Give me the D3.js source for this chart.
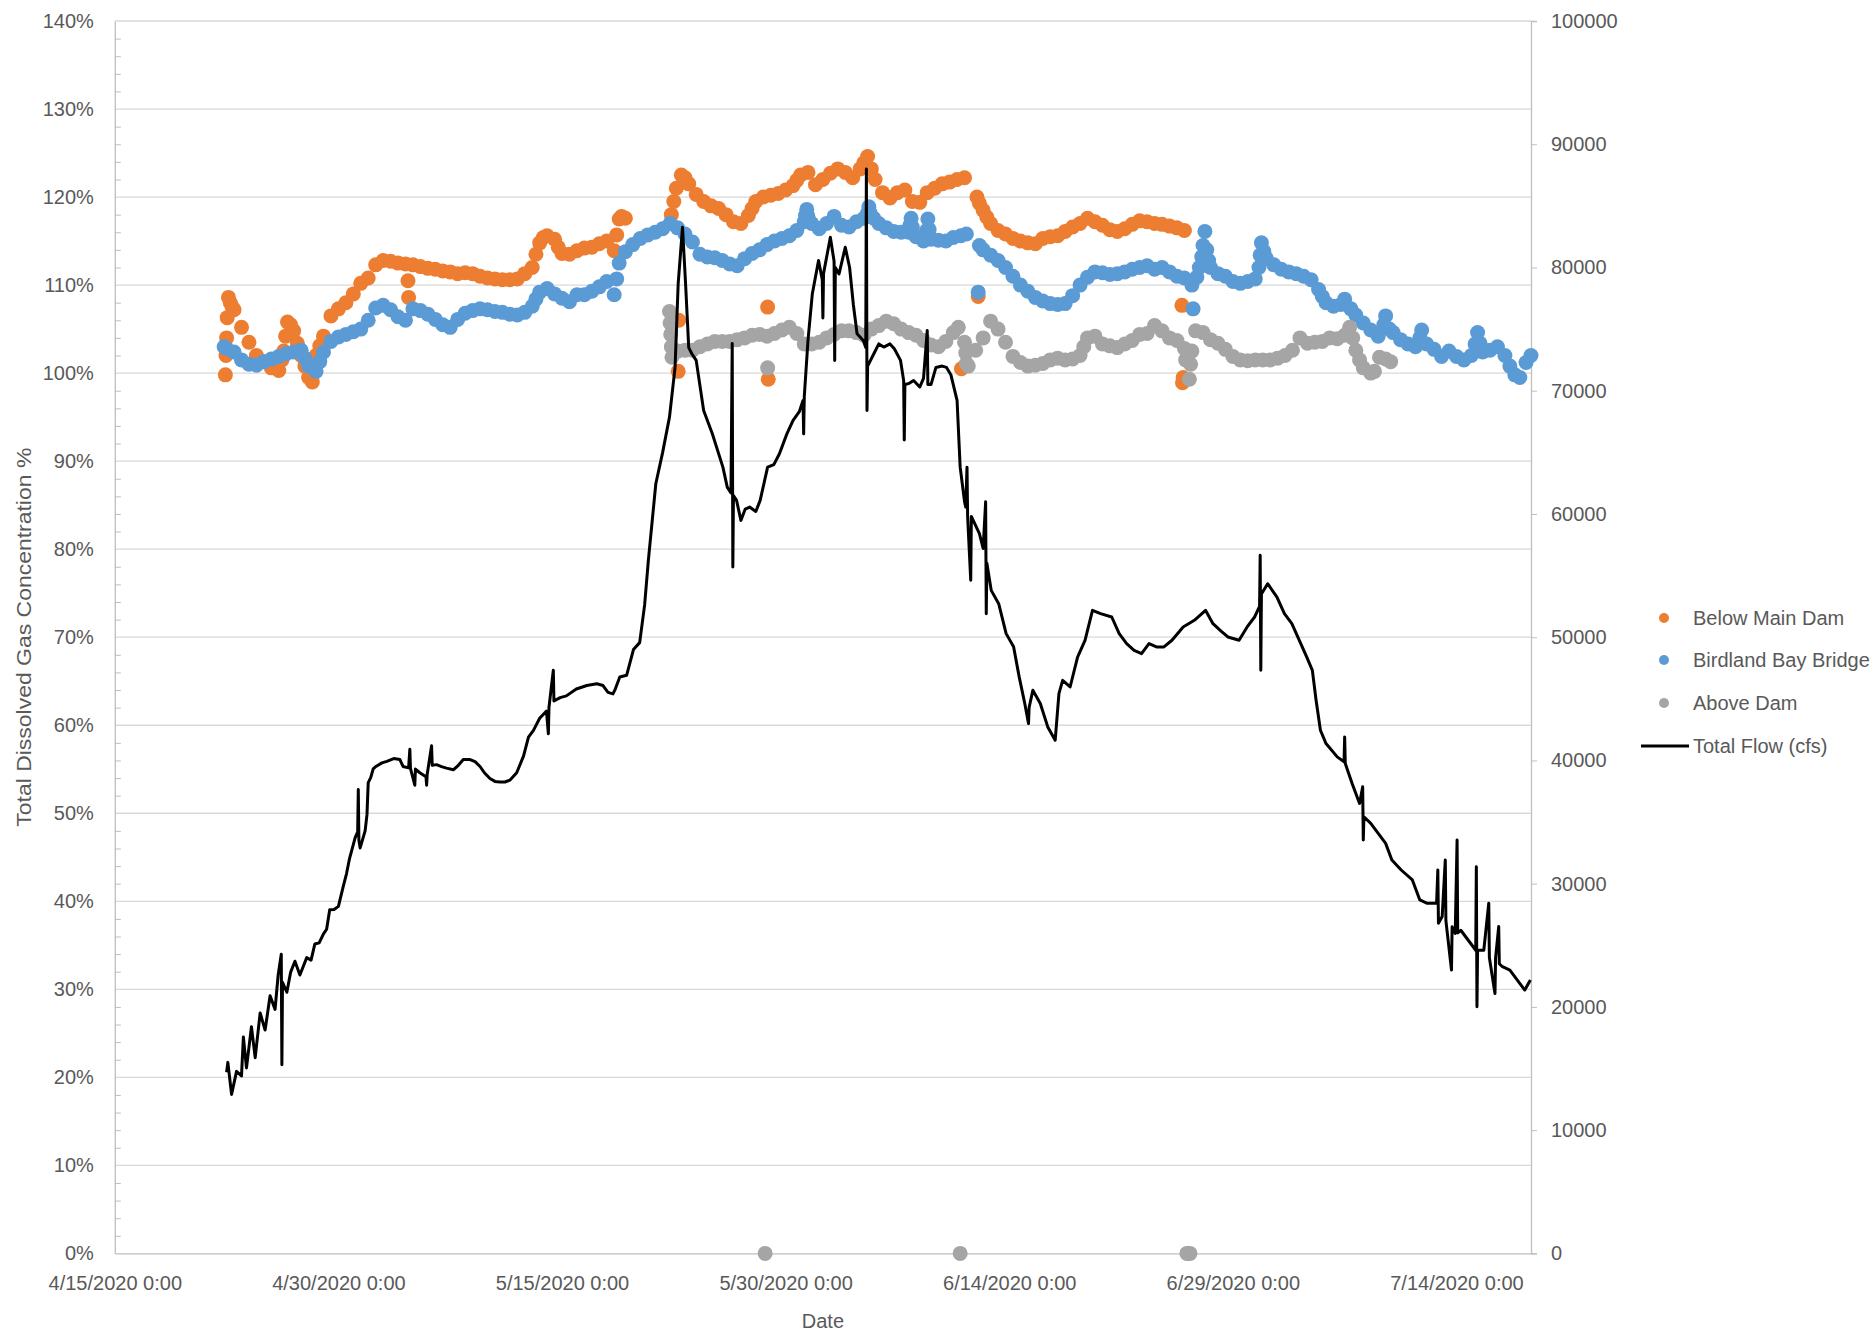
<!DOCTYPE html>
<html>
<head>
<meta charset="utf-8">
<script src="https://cdn.jsdelivr.net/npm/d3@7"></script>
<style>
  body { margin: 0; background: #ffffff; }
  text { font-family: "Liberation Sans", Arial, sans-serif; }
</style>
</head>
<body>
<svg id="chart" width="1875" height="1336"></svg>
<script>
// ---- Axis definitions ----
const pctTicks = [0, 10, 20, 30, 40, 50, 60, 70, 80, 90, 100, 110, 120, 130, 140];
const flowTicks = [0, 10000, 20000, 30000, 40000, 50000, 60000, 70000, 80000, 90000, 100000];
const dateTicks = ["4/15 0", "4/30 0", "5/15 0", "5/30 0", "6/14 0", "6/29 0", "7/14 0"];
const dateRange = ["4/15 0", "7/19 0"];

// ---- Total dissolved gas, % saturation (time "M/D H", value) ----
const belowMainDam = [
  ["4/22 10",99.8],["4/22 11",102.0],["4/22 12",104.0],["4/22 13",106.3],["4/22 15",108.6],["4/22 18",108.0],
  ["4/22 21",107.5],["4/23 0",107.2],["4/23 12",105.2],["4/24 0",103.5],["4/24 12",102.0],["4/25 0",101.3],
  ["4/25 12",100.6],["4/26 0",100.3],["4/26 5",101.5],["4/26 8",102.5],["4/26 11",104.2],["4/26 14",105.8],
  ["4/26 19",105.5],["4/27 0",104.8],["4/27 6",103.4],["4/27 12",102.0],["4/27 18",100.8],["4/28 0",99.5],
  ["4/28 6",99.0],["4/28 12",102.0],["4/28 18",103.1],["4/29 0",104.2],["4/29 12",106.5],["4/30 0",107.3],
  ["4/30 12",108.0],["5/1 0",109.0],["5/1 12",110.2],["5/2 0",110.8],["5/2 12",112.3],["5/3 0",112.8],
  ["5/3 12",112.7],["5/4 0",112.5],["5/4 12",112.4],["5/4 16",110.5],["5/4 17",108.6],["5/5 0",112.3],
  ["5/5 12",112.1],["5/6 0",111.9],["5/6 12",111.8],["5/7 0",111.6],["5/7 12",111.5],["5/8 0",111.3],
  ["5/8 12",111.4],["5/9 0",111.3],["5/9 12",111.0],["5/10 0",110.8],["5/10 12",110.7],["5/11 0",110.6],
  ["5/11 12",110.6],["5/12 0",110.7],["5/12 12",111.3],["5/13 0",112.0],["5/13 6",113.5],["5/13 12",114.8],
  ["5/13 18",115.4],["5/14 0",115.6],["5/14 12",115.2],["5/14 18",114.3],["5/15 0",113.6],["5/15 12",113.5],
  ["5/16 0",113.9],["5/16 12",114.2],["5/17 0",114.3],["5/17 12",114.7],["5/18 0",115.0],["5/18 12",113.9],
  ["5/18 16",115.7],["5/18 20",117.5],["5/19 0",117.8],["5/19 6",117.6],
  ["5/22 8",118.0],["5/22 12",119.5],["5/22 16",121.0],["5/22 19",100.2],["5/22 20",106.0],["5/23 0",122.5],
  ["5/23 6",122.2],["5/23 12",121.5],["5/24 0",120.3],["5/24 12",119.5],["5/25 0",119.0],["5/25 12",118.7],
  ["5/26 0",118.0],["5/26 12",117.2],["5/27 0",117.0],["5/27 12",117.9],["5/27 18",118.7],["5/28 0",119.5],
  ["5/28 12",120.0],["5/28 19",107.5],["5/28 20",99.3],["5/29 0",120.2],["5/29 12",120.4],["5/30 0",120.8],
  ["5/30 12",121.3],["5/30 18",121.9],["5/31 0",122.5],["5/31 12",122.8],["6/1 0",121.4],["6/1 12",122.0],
  ["6/2 0",122.7],["6/2 12",123.2],["6/3 0",122.8],["6/3 12",122.2],["6/4 0",123.2],["6/4 6",123.9],
  ["6/4 12",124.6],["6/4 18",123.2],["6/5 0",122.0],["6/5 12",120.5],["6/6 0",119.9],["6/6 12",120.5],
  ["6/7 0",120.8],["6/7 12",119.5],["6/8 0",119.4],["6/8 12",120.5],["6/9 0",121.0],["6/9 12",121.5],
  ["6/10 0",121.7],["6/10 12",122.0],["6/10 19",100.5],["6/11 0",122.2],["6/11 22",108.7],
  ["6/11 20",120.0],["6/12 0",119.3],["6/12 6",118.5],["6/12 12",117.7],["6/12 18",117.0],["6/13 6",116.2],
  ["6/13 18",115.8],["6/14 6",115.3],["6/14 18",115.0],["6/15 6",114.8],["6/15 18",114.7],["6/16 6",115.3],
  ["6/16 18",115.5],["6/17 6",115.6],["6/17 18",116.1],["6/18 6",116.6],["6/18 18",117.0],["6/19 6",117.6],
  ["6/19 18",117.2],["6/20 6",116.8],["6/20 18",116.3],["6/21 6",116.1],["6/21 18",116.4],["6/22 6",116.9],
  ["6/22 18",117.3],["6/23 6",117.2],["6/23 18",117.0],["6/24 6",116.9],["6/24 18",116.7],["6/25 6",116.5],
  ["6/25 14",107.7],["6/25 15",98.9],["6/25 16",99.5],["6/25 18",116.2]
];

const birdlandBayBridge = [
  ["4/22 8",103.0],["4/22 12",102.8],["4/23 0",102.4],["4/23 12",101.5],["4/24 0",101.0],["4/24 12",100.9],
  ["4/25 0",101.3],["4/25 12",101.6],["4/26 0",101.9],["4/26 12",102.2],["4/27 0",102.4],["4/27 12",102.6],
  ["4/27 18",101.7],["4/28 0",100.8],["4/28 12",100.2],["4/28 18",101.3],["4/29 0",102.4],["4/29 12",103.6],
  ["4/30 0",104.1],["4/30 12",104.4],["5/1 0",104.7],["5/1 12",105.0],["5/2 0",106.0],["5/2 12",107.4],
  ["5/3 0",107.7],["5/3 12",107.2],["5/4 0",106.4],["5/4 12",106.0],["5/5 0",107.3],["5/5 12",107.1],
  ["5/6 0",106.7],["5/6 12",106.1],["5/7 0",105.5],["5/7 12",105.2],["5/8 0",106.1],["5/8 12",106.8],
  ["5/9 0",107.1],["5/9 12",107.3],["5/10 0",107.2],["5/10 12",107.0],["5/11 0",106.9],["5/11 12",106.7],
  ["5/12 0",106.6],["5/12 12",106.9],["5/13 0",107.6],["5/13 6",108.4],["5/13 12",109.2],["5/14 0",109.6],
  ["5/14 12",109.0],["5/15 0",108.5],["5/15 12",108.1],["5/16 0",108.9],["5/16 12",108.9],["5/17 0",109.3],
  ["5/17 12",109.8],["5/18 0",110.4],["5/18 12",108.9],["5/18 16",110.7],["5/18 20",112.5],["5/19 6",113.8],
  ["5/19 18",114.6],["5/20 6",115.3],["5/20 18",115.7],["5/21 6",116.0],["5/21 18",116.4],["5/22 6",117.0],
  ["5/22 18",116.5],["5/23 6",115.8],["5/23 18",114.9],["5/24 6",113.5],["5/24 18",113.2],["5/25 6",113.1],
  ["5/25 18",112.8],["5/26 6",112.4],["5/26 18",112.2],["5/27 6",113.0],["5/27 18",113.6],["5/28 6",114.0],
  ["5/28 18",114.6],["5/29 6",115.0],["5/29 18",115.3],["5/30 6",115.6],["5/30 18",116.2],["5/31 6",117.2],
  ["5/31 8",117.9],["5/31 10",118.6],["5/31 12",117.8],["5/31 18",117.0],["6/1 6",116.4],["6/1 18",117.0],
  ["6/2 6",117.8],["6/2 18",116.8],["6/3 6",116.6],["6/3 18",117.2],["6/4 6",117.6],["6/4 12",118.2],
  ["6/4 14",118.9],["6/4 16",118.2],["6/4 22",117.6],["6/5 6",117.0],["6/5 18",116.5],["6/6 6",116.1],
  ["6/6 18",116.0],["6/7 6",116.0],["6/7 8",116.8],["6/7 10",117.6],["6/7 12",116.6],["6/7 18",115.5],
  ["6/8 6",115.0],["6/8 11",116.2],["6/8 13",117.5],["6/8 15",116.3],["6/8 18",115.2],["6/9 6",115.1],
  ["6/9 18",115.0],["6/10 6",115.4],["6/10 18",115.6],["6/11 3",115.8],["6/11 22",109.2],["6/12 0",114.5],
  ["6/12 6",114.0],["6/12 18",113.4],["6/13 6",112.8],["6/13 18",112.0],["6/14 6",111.0],["6/14 18",110.0],
  ["6/15 6",109.3],["6/15 18",108.6],["6/16 6",108.2],["6/16 18",107.9],["6/17 6",107.8],["6/17 18",107.9],
  ["6/18 6",108.8],["6/18 18",110.0],["6/19 6",110.9],["6/19 18",111.5],["6/20 6",111.4],["6/20 18",111.2],
  ["6/21 6",111.3],["6/21 18",111.5],["6/22 6",111.8],["6/22 18",112.0],["6/23 6",112.2],["6/23 18",111.8],
  ["6/24 6",112.0],["6/24 18",111.5],["6/25 6",111.0],["6/25 18",110.8],["6/26 6",110.0],["6/26 8",107.3],
  ["6/26 14",110.9],["6/26 18",112.0],["6/26 22",113.2],["6/27 0",114.5],["6/27 3",116.1],["6/27 6",114.0],
  ["6/27 9",112.8],["6/27 12",112.0],["6/28 0",111.3],["6/28 12",111.0],["6/29 0",110.4],["6/29 12",110.2],
  ["6/30 0",110.4],["6/30 12",110.7],["6/30 18",112.0],["6/30 20",113.4],["6/30 22",114.8],["7/1 2",113.8],
  ["7/1 6",113.0],["7/1 18",112.3],["7/2 6",111.8],["7/2 18",111.5],["7/3 6",111.3],["7/3 18",111.0],
  ["7/4 6",110.6],["7/4 18",109.5],["7/5 0",108.7],["7/5 6",108.0],["7/5 18",107.6],["7/6 6",107.8],
  ["7/6 12",108.4],["7/6 22",107.3],["7/7 6",106.6],["7/7 18",105.7],["7/8 6",104.9],["7/8 18",104.2],
  ["7/9 3",105.5],["7/9 6",106.5],["7/9 12",105.0],["7/9 18",104.6],["7/10 6",103.8],["7/10 18",103.3],
  ["7/11 6",103.0],["7/11 13",104.0],["7/11 16",104.9],["7/12 0",103.3],["7/12 12",102.7],["7/13 0",101.9],
  ["7/13 12",102.5],["7/14 0",101.9],["7/14 12",101.5],["7/15 0",102.0],["7/15 6",103.3],["7/15 10",104.6],
  ["7/15 14",103.4],["7/15 18",102.4],["7/16 6",102.6],["7/16 18",103.0],["7/17 6",102.0],["7/17 14",100.8],
  ["7/17 22",99.8],["7/18 6",99.5],["7/18 16",101.2],["7/19 0",102.0]
];

const aboveDam = [
  ["5/22 5",107.0],["5/22 6",105.7],["5/22 7",104.4],["5/22 8",103.0],["5/22 9",101.8],["5/22 18",102.5],
  ["5/23 6",102.6],["5/23 18",102.6],["5/24 6",103.0],["5/24 18",103.3],["5/25 6",103.6],["5/25 18",103.6],
  ["5/26 6",103.6],["5/26 18",103.8],["5/27 6",104.0],["5/27 18",104.3],["5/28 6",104.4],["5/28 18",104.2],
  ["5/28 19",100.6],["5/28 15",0],["5/29 6",104.5],["5/29 18",104.9],["5/30 6",105.2],["5/30 18",104.5],
  ["5/31 6",103.3],["5/31 18",103.3],["6/1 6",103.5],["6/1 18",104.0],["6/2 6",104.4],["6/2 18",104.8],
  ["6/3 6",104.8],["6/3 18",104.6],["6/4 6",104.3],["6/4 18",105.0],["6/5 6",105.4],["6/5 18",105.9],
  ["6/6 6",105.6],["6/6 18",105.0],["6/7 6",104.6],["6/7 18",104.3],["6/8 6",103.7],["6/8 18",103.2],
  ["6/9 6",103.0],["6/9 18",103.6],["6/10 6",104.6],["6/10 14",105.2],["6/10 17",0],["6/11 0",103.5],
  ["6/11 2",102.3],["6/11 3",101.1],["6/11 6",100.8],["6/11 18",102.6],["6/12 6",104.0],["6/12 18",105.9],
  ["6/13 6",105.0],["6/13 18",103.5],["6/14 6",101.9],["6/14 18",101.2],["6/15 6",100.8],["6/15 18",100.9],
  ["6/16 6",101.1],["6/16 18",101.5],["6/17 6",101.7],["6/17 18",101.5],["6/18 6",101.6],["6/18 18",102.0],
  ["6/19 0",103.0],["6/19 6",104.0],["6/19 18",104.2],["6/20 6",103.3],["6/20 18",103.1],["6/21 6",102.9],
  ["6/21 18",103.3],["6/22 6",103.7],["6/22 18",104.4],["6/23 6",104.5],["6/23 18",105.4],["6/24 6",104.8],
  ["6/24 18",104.0],["6/25 6",103.7],["6/25 18",102.8],["6/25 20",101.5],["6/25 22",0],["6/26 0",0],
  ["6/26 3",0],["6/26 2",99.3],["6/26 4",101.0],["6/26 6",102.5],["6/26 12",104.8],["6/27 0",104.6],
  ["6/27 12",103.8],["6/28 0",103.4],["6/28 12",102.7],["6/29 0",101.9],["6/29 12",101.5],["6/30 0",101.4],
  ["6/30 12",101.5],["7/1 0",101.5],["7/1 12",101.5],["7/2 0",101.7],["7/2 12",102.0],["7/3 0",102.6],
  ["7/3 12",104.0],["7/4 0",103.4],["7/4 12",103.5],["7/5 0",103.6],["7/5 12",104.0],["7/6 0",103.9],
  ["7/6 12",104.3],["7/6 20",105.2],["7/7 1",104.0],["7/7 6",102.6],["7/7 12",101.5],["7/7 18",100.6],
  ["7/8 6",100.0],["7/8 12",100.2],["7/8 20",101.8],["7/9 6",101.6],["7/9 14",101.3]
];

// ---- Total flow, cfs (time "M/D H", value) ----
const totalFlow = [
  ["4/22 12",14700],["4/22 14",15500],["4/22 20",12900],["4/23 4",14770],["4/23 12",14400],["4/23 15",17560],
  ["4/23 20",15050],["4/24 4",18400],["4/24 10",15880],["4/24 18",19510],["4/25 2",18120],["4/25 10",20910],
  ["4/25 18",19800],["4/25 23",22590],["4/26 4",24270],["4/26 5",15300],["4/26 6",22000],["4/26 13",21190],
  ["4/26 19",22800],["4/27 2",23710],["4/27 10",22590],["4/27 21",24000],["4/28 4",23800],["4/28 10",25100],
  ["4/28 17",25200],["4/29 0",25930],["4/29 5",26300],["4/29 10",27880],["4/29 17",27900],["4/30 0",28160],
  ["4/30 8",29830],["4/30 13",30800],["4/30 18",32060],["5/1 3",33730],["5/1 7",34200],["5/1 8",37640],
  ["5/1 9",33500],["5/1 11",32900],["5/1 19",34290],["5/1 22",35600],["5/2 0",38200],["5/2 4",38600],
  ["5/2 8",39310],["5/2 13",39530],["5/2 22",39800],["5/3 6",39930],["5/3 17",40150],["5/4 3",40070],
  ["5/4 8",39510],["5/4 17",39400],["5/4 19",40900],["5/4 20",39360],["5/5 3",37990],["5/5 4",39300],
  ["5/5 11",39000],["5/5 21",38680],["5/5 22",37990],["5/5 23",38900],["5/6 6",41190],["5/6 7",39600],
  ["5/6 14",39660],["5/6 22",39500],["5/7 6",39380],["5/7 17",39240],["5/8 1",39600],["5/8 9",40070],
  ["5/8 20",40070],["5/9 4",39900],["5/9 12",39510],["5/9 19",39000],["5/10 4",38540],["5/10 12",38300],
  ["5/10 20",38260],["5/11 4",38250],["5/11 12",38400],["5/11 23",39000],["5/12 10",40350],["5/12 18",41890],
  ["5/13 2",42440],["5/13 12",43420],["5/13 23",44000],["5/14 2",42160],["5/14 3",44300],["5/14 10",47320],
  ["5/14 11",44820],["5/14 21",45100],["5/15 7",45240],["5/15 23",45800],["5/16 16",46080],["5/17 8",46220],
  ["5/17 18",46080],["5/18 2",45520],["5/18 10",45400],["5/18 13",45700],["5/18 21",46770],["5/19 8",46910],
  ["5/19 19",49000],["5/20 5",49560],["5/20 13",52620],["5/20 19",56230],["5/21 7",62450],["5/21 18",65000],
  ["5/22 5",67860],["5/22 14",71900],["5/22 19",78680],["5/23 2",83270],["5/23 7",78600],["5/23 12",73500],
  ["5/23 17",73000],["5/24 0",72460],["5/24 12",68400],["5/25 2",66510],["5/25 19",63800],["5/26 2",62180],
  ["5/26 8",61700],["5/26 10",73830],["5/26 11",55690],["5/26 12",61500],["5/26 17",61100],["5/27 0",59480],
  ["5/27 7",60400],["5/27 14",60560],["5/28 0",60200],["5/28 7",61100],["5/28 19",63800],["5/29 5",64000],
  ["5/29 14",64890],["5/30 2",66500],["5/30 12",67590],["5/30 22",68300],["5/31 4",69210],["5/31 5",66500],
  ["5/31 6",69500],["5/31 12",74080],["5/31 19",77870],["6/1 5",80560],["6/1 11",79000],["6/1 12",75910],
  ["6/1 13",79500],["6/2 0",82450],["6/2 6",80500],["6/2 7",72460],["6/2 8",80000],["6/2 14",79480],
  ["6/3 0",81640],["6/3 7",80000],["6/3 13",77000],["6/3 19",74620],["6/4 5",74080],["6/4 9",73500],
  ["6/4 10",88000],["6/4 11",68400],["6/4 12",72000],["6/4 22",73000],["6/5 6",73800],["6/5 14",73540],
  ["6/6 0",73800],["6/6 7",73400],["6/6 17",72460],["6/6 22",70830],["6/6 23",66000],["6/7 0",70500],
  ["6/7 7",70600],["6/7 14",70830],["6/8 0",70300],["6/8 6",71000],["6/8 12",74890],["6/8 13",70500],
  ["6/8 18",70500],["6/9 2",71890],["6/9 12",72000],["6/9 19",71890],["6/10 2",71300],["6/10 12",69210],
  ["6/10 17",63800],["6/11 0",61000],["6/11 2",60560],["6/11 4",63800],["6/11 5",59800],["6/11 10",54620],
  ["6/11 11",59800],["6/11 14",59480],["6/12 0",58400],["6/12 6",57200],["6/12 10",61000],["6/12 11",51910],
  ["6/12 12",56000],["6/12 19",53800],["6/13 7",52720],["6/13 19",50290],["6/14 7",49230],["6/14 16",46780],
  ["6/15 1",44620],["6/15 7",42990],["6/15 8",44300],["6/15 14",45690],["6/16 2",44620],["6/16 14",42720],
  ["6/17 2",41640],["6/17 8",45420],["6/17 14",46500],["6/18 2",45960],["6/18 14",48390],["6/19 2",49740],
  ["6/19 14",52180],["6/20 3",51910],["6/20 21",51640],["6/21 9",50290],["6/21 21",49480],["6/22 9",48940],
  ["6/22 21",48670],["6/23 9",49480],["6/23 21",49210],["6/24 9",49210],["6/24 22",49750],["6/25 16",50830],
  ["6/26 10",51370],["6/27 4",52180],["6/27 16",51100],["6/28 5",50500],["6/28 16",50020],["6/29 10",49750],
  ["6/29 23",50830],["6/30 11",51640],["6/30 19",52500],["6/30 20",56640],["6/30 21",47310],["6/30 22",53500],
  ["7/1 8",54340],["7/1 23",53260],["7/2 11",51910],["7/2 23",51100],["7/3 11",49750],["7/3 23",48390],
  ["7/4 8",47310],["7/4 14",44880],["7/4 21",42450],["7/5 6",41370],["7/6 0",40290],["7/6 11",39900],
  ["7/6 12",41910],["7/6 13",39750],["7/7 0",38130],["7/7 12",36510],["7/7 17",37860],["7/7 18",33540],
  ["7/7 19",35430],["7/8 6",34890],["7/8 18",34080],["7/9 6",33270],["7/9 16",31920],["7/10 7",31110],
  ["7/11 1",30300],["7/11 13",28680],["7/12 1",28410],["7/12 16",28410],["7/12 18",31110],["7/12 19",26790],
  ["7/13 1",27330],["7/13 6",31920],["7/13 7",27000],["7/13 16",22990],["7/13 17",26500],["7/13 22",25960],
  ["7/14 1",33540],["7/14 2",26000],["7/14 7",26220],["7/14 19",25410],["7/15 7",24600],["7/15 8",31380],
  ["7/15 9",20010],["7/15 10",24600],["7/15 20",24600],["7/16 4",28410],["7/16 5",24000],["7/16 14",21090],
  ["7/16 15",24000],["7/16 20",26520],["7/16 21",23500],["7/17 2",23260],["7/17 14",22990],["7/18 2",22180],
  ["7/18 14",21370],["7/18 23",22180]
];

const seriesNames = ["Below Main Dam", "Birdland Bay Bridge", "Above Dam", "Total Flow (cfs)"];
const seriesColors = ["#ED7D31", "#5B9BD5", "#A5A5A5", "#000000"];

// ---- Layout ----
const parseTime = s => d3.timeParse("%Y/%m/%d %H")("2020/" + s);
const plot = { left: 114.8, right: 1531, top: 21, bottom: 1253.4 };
const textColor = "#595959";
const fontSize = 20;

const svg = d3.select("#chart");
svg.append("rect").attr("width", 1875).attr("height", 1336).attr("fill", "#ffffff");

const x = d3.scaleTime().domain(dateRange.map(parseTime)).range([plot.left, plot.right]);
const yPct = d3.scaleLinear().domain([0, 140]).range([plot.bottom, plot.top]);
const yFlow = d3.scaleLinear().domain([0, 100000]).range([plot.bottom, plot.top]);

// Horizontal gridlines on the % axis
svg.append("g").selectAll("line").data(pctTicks.filter(v => v > 0)).join("line")
  .attr("x1", plot.left).attr("x2", plot.right)
  .attr("y1", d => yPct(d)).attr("y2", d => yPct(d))
  .attr("stroke", "#d9d9d9").attr("stroke-width", 1.3);

// Left axis with minor ticks every 2 %
const minorPct = d3.range(0, 141, 2).filter(v => v % 10 !== 0);
svg.append("g").attr("transform", `translate(${plot.left},0)`)
  .call(d3.axisRight(yPct).tickValues(minorPct).tickSize(6).tickFormat(""))
  .call(g => g.select(".domain").remove())
  .call(g => g.selectAll("line").attr("stroke", "#bfbfbf"));

const leftAxis = svg.append("g").attr("transform", `translate(${plot.left},0)`)
  .call(d3.axisLeft(yPct).tickValues(pctTicks).tickSize(0).tickPadding(21).tickFormat(d => d + "%"));

// Right (flow) axis
const rightAxis = svg.append("g").attr("transform", `translate(${plot.right},0)`)
  .call(d3.axisRight(yFlow).tickValues(flowTicks).tickSize(6).tickPadding(14).tickFormat(d3.format("d")));

// Date axis
const bottomAxis = svg.append("g").attr("transform", `translate(0,${plot.bottom})`)
  .call(d3.axisBottom(x).tickValues(dateTicks.map(parseTime)).tickSize(0).tickPadding(22)
    .tickFormat(d3.timeFormat("%-m/%-d/%Y %-H:%M")));

[leftAxis, rightAxis, bottomAxis].forEach(g => {
  g.select(".domain").attr("stroke", "#bfbfbf").attr("stroke-width", 1.3);
  g.selectAll(".tick line").attr("stroke", "#bfbfbf");
  g.selectAll("text").attr("fill", textColor).attr("font-size", fontSize)
    .attr("font-family", "'Liberation Sans', Arial, sans-serif");
});

// Axis titles
svg.append("text").attr("x", (plot.left + plot.right) / 2).attr("y", 1321)
  .attr("text-anchor", "middle").attr("dominant-baseline", "central")
  .attr("fill", textColor).attr("font-size", fontSize).text("Date");
svg.append("text").attr("transform", `translate(24,${(plot.top + plot.bottom) / 2}) rotate(-90)`)
  .attr("text-anchor", "middle").attr("dominant-baseline", "central")
  .attr("textLength", 379).attr("lengthAdjust", "spacingAndGlyphs")
  .attr("fill", textColor).attr("font-size", fontSize).text("Total Dissolved Gas Concentration %");

// Gas concentration markers
const dotSeries = [belowMainDam, birdlandBayBridge, aboveDam];
dotSeries.forEach((data, i) => {
  svg.append("g").attr("fill", seriesColors[i])
    .selectAll("circle").data(data).join("circle")
    .attr("cx", d => x(parseTime(d[0])))
    .attr("cy", d => yPct(d[1]))
    .attr("r", 7.5);
});

// Flow line
const flowLine = d3.line().x(d => x(parseTime(d[0]))).y(d => yFlow(d[1]));
svg.append("path").datum(totalFlow)
  .attr("d", flowLine).attr("fill", "none")
  .attr("stroke", seriesColors[3]).attr("stroke-width", 3)
  .attr("stroke-linejoin", "round");

// Legend
const legendRows = [618, 660, 703, 746];
const legend = svg.append("g");
seriesNames.forEach((name, i) => {
  const row = legend.append("g").attr("transform", `translate(0,${legendRows[i]})`);
  if (i < 3) {
    row.append("circle").attr("cx", 1664).attr("cy", 0).attr("r", 5).attr("fill", seriesColors[i]);
  } else {
    row.append("line").attr("x1", 1641).attr("x2", 1689).attr("y1", 0).attr("y2", 0)
      .attr("stroke", seriesColors[i]).attr("stroke-width", 3);
  }
  row.append("text").attr("x", 1693).attr("y", 0).attr("dominant-baseline", "central")
    .attr("fill", textColor).attr("font-size", fontSize).text(name);
});
</script>
</body>
</html>
